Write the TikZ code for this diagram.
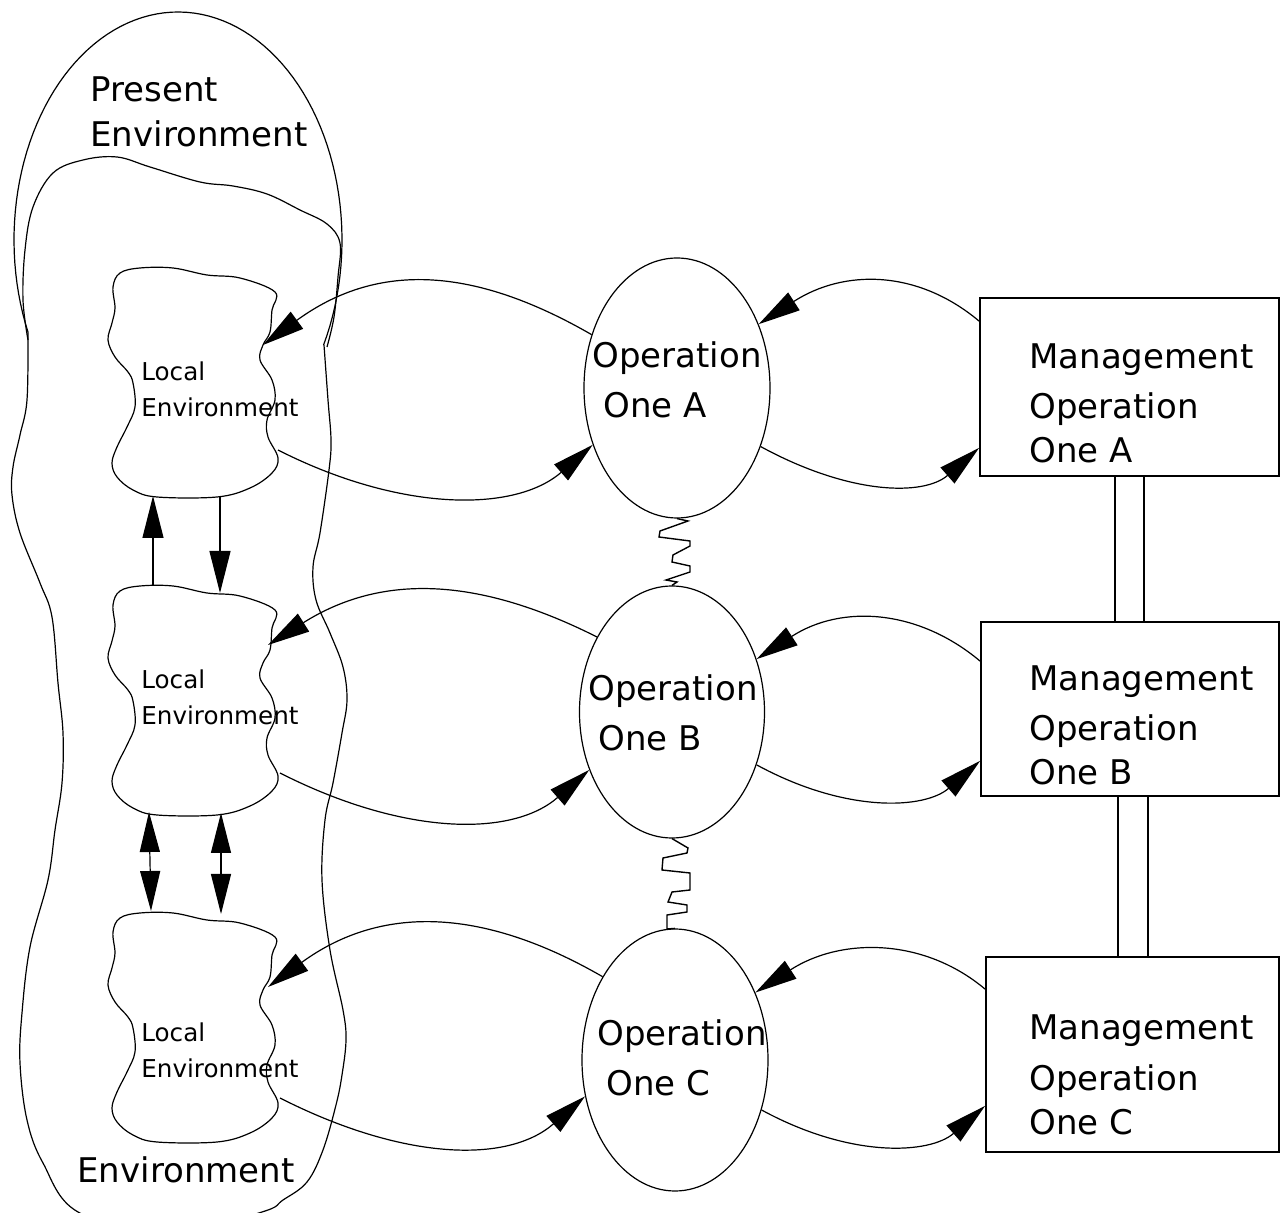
\documentclass[tikz,border=0pt]{standalone}
\usepackage{fontspec}
\setmainfont{DejaVu Sans}
\usetikzlibrary{arrows.meta,calc,shapes.geometric}

\begin{document}
\begin{tikzpicture}[x=0.5pt,y=-0.5pt,
  outline/.style={line width=0.6pt},
  conn/.style={line width=0.6pt,-{Triangle[length=21pt,width=10.5pt]}},
  twoway/.style={line width=0.6pt,{Triangle[length=20pt,width=10pt]}-{Triangle[length=20pt,width=10pt]}},
  opnode/.style={draw,ellipse,line width=0.6pt,inner sep=0pt},
  mgmt/.style={draw,rectangle,line width=0.9pt,inner sep=0pt},
  biglbl/.style={anchor=base west,inner sep=0pt,align=left,font=\fontsize{17}{22.5}\selectfont},
  optext/.style={anchor=base west,inner sep=0pt,align=left,font=\fontsize{17}{25}\selectfont},
  mgtext/.style={anchor=base west,inner sep=0pt,align=left,font=\fontsize{17}{22}\selectfont},
  loclbl/.style={anchor=base west,inner sep=0pt,align=left,font=\fontsize{12.3}{18}\selectfont},
  spring/.style={line width=0.7pt,line join=miter},
  pair/.style={line width=0.9pt},
  localenv/.pic={
    \draw[outline] plot[smooth cycle,tension=0.6] coordinates {
      (120,273) (140,268) (173,268) (207,275) (240,278) (275,292)
      (272,310) (270,332) (263,345) (260,360) (272,380) (275,400)
      (267,420) (268,437) (278,458) (272,473) (250,488) (217,497)
      (157,497) (133,490) (117,477) (112,463) (117,447) (127,427)
      (135,407) (133,383) (128,372) (115,357) (108,340) (112,323)
      (115,308) (113,287)};
  }
]
\useasboundingbox (0,0) rectangle (1281,1213);

% outer "Present Environment" cap
\draw[outline] plot[domain=156:387.4,samples=90] ({178+164*cos(\x)},{240+228*sin(\x)});
% long body of the environment
\draw[outline] plot[smooth,tension=0.6] coordinates {
  (324,345) (328,400) (331,440) (329,470) (320,533) (313,567) (316,600)
  (330,633) (343,667) (347,700) (342,733) (333,783) (325,820) (322,880)
  (330,950) (343,1010) (346,1040) (342,1075) (336,1105) (323,1150)
  (307,1182) (283,1200) (262,1212) (170,1235) (78,1212) (43,1163)
  (27,1120) (20,1063) (22,1013) (30,947) (48,880) (55,830) (62,783)
  (63,733) (58,683) (52,617) (40,583) (20,533) (12,495) (13,467)
  (20,435) (27,400) (28,333)};
% inner "Environment" boundary
\draw[outline] plot[smooth,tension=0.6] coordinates {
  (28,340) (23,300) (25,250) (33,207) (53,173) (83,160) (117,157)
  (150,167) (200,182) (233,186) (267,194) (300,210) (327,224)
  (340,243) (338,277) (334,317) (327,347)};

% multi-line labels are anchored at the baseline of their last line
\node[biglbl] (pres) at (90,147) {Present\\Environment};
\node[biglbl] (env) at (77,1182) {Environment};

% local environments
\pic (LA) at (0,0) {localenv};
\pic (LB) at (0,318) {localenv};
\pic (LC) at (0,645) {localenv};
\node[loclbl] (LAt) at (141,417) {Local\\Environment};
\node[loclbl] (LBt) at (141,725) {Local\\Environment};
\node[loclbl] (LCt) at (141,1077) {Local\\Environment};

\coordinate (LA-in) at (263,345);
\coordinate (LA-out) at (278,450);
\coordinate (LB-in) at (268,645);
\coordinate (LB-out) at (280,773);
\coordinate (LC-in) at (268,987);
\coordinate (LC-out) at (280,1098);
\coordinate (LA-s1) at (153,496);
\coordinate (LA-s2) at (220,497);
\coordinate (LB-n1) at (153,586);
\coordinate (LB-n2) at (220,593);
\coordinate (LB-s1) at (149,812);
\coordinate (LB-s2) at (221,813);
\coordinate (LC-n1) at (151,911);
\coordinate (LC-n2) at (221,914);

% operations
\node[opnode,minimum width=93pt,minimum height=130pt] (OA) at (677,388) {};
\node[opnode,minimum width=92.5pt,minimum height=126pt] (OB) at (672,712) {};
\node[opnode,minimum width=93pt,minimum height=131pt] (OC) at (675,1060) {};
\node[optext] (OAt) at (592,418) {Operation\\\hspace*{5.5pt}One A};
\node[optext] (OBt) at (588,751) {Operation\\\hspace*{5pt}One B};
\node[optext] (OCt) at (597,1095) {Operation\\\hspace*{4.5pt}One C};

% management operations
\node[mgmt,minimum width=149.5pt,minimum height=89pt] (MA) at (1129.5,387) {};
\node[mgmt,minimum width=149pt,minimum height=87pt] (MB) at (1130,709) {};
\node[mgmt,minimum width=146.5pt,minimum height=97.5pt] (MC) at (1132.5,1054.5) {};
\node[mgtext] (MAt) at (1029,463) {Management\\[3.25pt]Operation\\One A};
\node[mgtext] (MBt) at (1029,785) {Management\\[3.25pt]Operation\\One B};
\node[mgtext] (MCt) at (1029,1134) {Management\\[3.25pt]Operation\\One C};

\coordinate (MA-out) at ($(MA.north west)+(0,24)$);
\coordinate (MA-in) at ($(MA.south west)+(0,-29)$);
\coordinate (MB-out) at ($(MB.north west)+(0,40)$);
\coordinate (MB-in) at ($(MB.south west)+(0,-36)$);
\coordinate (MC-out) at ($(MC.north west)+(0,33)$);
\coordinate (MC-in) at ($(MC.south west)+(0,-47)$);

% operation <-> local environment
\draw[conn] (OA.148) .. controls +(-123,-71) and +(111,-81) .. (LA-in);
\draw[conn] (LA-out) .. controls +(122,62) and +(-78,68) .. (OA.214);
\draw[conn] (OB.135) .. controls +(-123,-62) and +(111,-70) .. (LB-in);
\draw[conn] (LB-out) .. controls +(122,62) and +(-78,68) .. (OB.215);
\draw[conn] (OC.131) .. controls +(-123,-71) and +(111,-81) .. (LC-in);
\draw[conn] (LC-out) .. controls +(122,62) and +(-78,68) .. (OC.202);

% management <-> operation
\draw[conn] (MA-out) .. controls +(-62,-52) and +(85,-55) .. (OA.38);
\draw[conn] (OA.-35) .. controls +(90,49) and +(-55,48) .. (MA-in);
\draw[conn] (MB-out) .. controls +(-62,-52) and +(85,-55) .. (OB.32);
\draw[conn] (OB.-32) .. controls +(90,49) and +(-55,48) .. (MB-in);
\draw[conn] (MC-out) .. controls +(-62,-52) and +(85,-55) .. (OC.40);
\draw[conn] (OC.-30) .. controls +(90,49) and +(-55,48) .. (MC-in);

% links between local environments
\draw[conn] (LB-n1) -- (LA-s1);
\draw[conn] (LA-s2) -- (LB-n2);
\draw[twoway] (LB-s1) -- (LC-n1);
\draw[twoway] (LB-s2) -- (LC-n2);

% springs between operations
\draw[spring] (OA.south) -- (688,521) -- (660,531) -- (659,537) -- (690,541)
  -- (690,546) -- (673,555) -- (672,562) -- (690,566) -- (690,572)
  -- (666,580) -- (677,582) -- (OB.north);
\draw[spring] (OB.south) -- (688,848) -- (687,853) -- (663,858) -- (662,870)
  -- (690,873) -- (690,890) -- (672,892) -- (668,902) -- (687,905)
  -- (687,912) -- (667,915) -- (667,929) -- (OC.north);

% double links between management operations
\coordinate (d1) at (1115,0);
\coordinate (d2) at (1144,0);
\coordinate (d3) at (1118,0);
\coordinate (d4) at (1148,0);
\draw[pair] (d1 |- MA.south) -- (d1 |- MB.north);
\draw[pair] (d2 |- MA.south) -- (d2 |- MB.north);
\draw[pair] (d3 |- MB.south) -- (d3 |- MC.north);
\draw[pair] (d4 |- MB.south) -- (d4 |- MC.north);
\end{tikzpicture}
\end{document}
